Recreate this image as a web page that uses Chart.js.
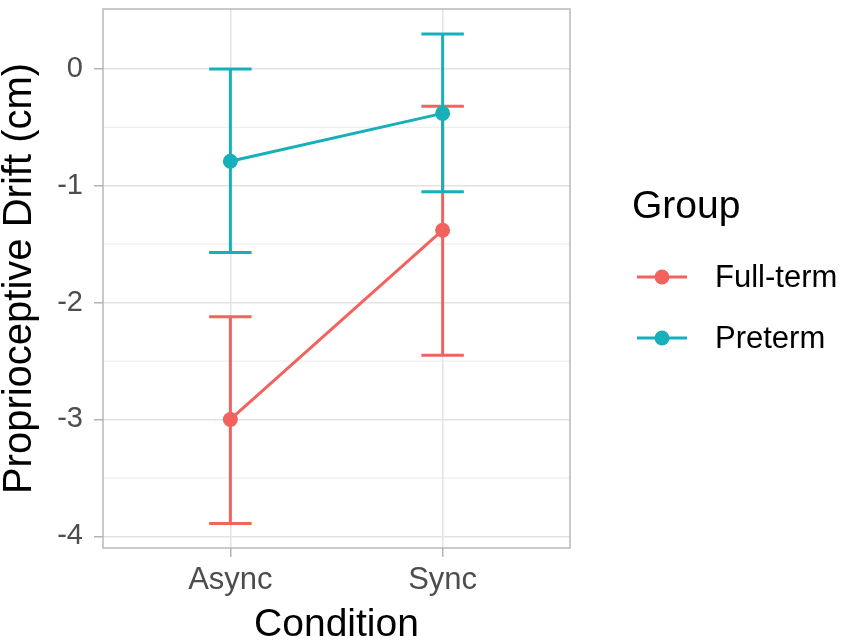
<!DOCTYPE html>
<html lang="en">

<head>
  <meta charset="UTF-8">
  <title>Proprioceptive Drift by Condition</title>
  <script src="https://cdn.jsdelivr.net/npm/chart.js"></script>
  <style>
    body {
      margin: 0;
      background: #ffffff;
      font-family: 'Liberation Sans', Arial, sans-serif;
    }

    #wrap {
      width: 850px;
      height: 642px;
    }
  </style>
</head>

<body>

  <div id="wrap">
    <canvas id="myChart"></canvas>
  </div>

  <script>
    // values
    const categories = ['Async', 'Sync'];
    const yTicks = [-4, -3, -2, -1, 0];
    const yMinor = [-3.5, -2.5, -1.5, -0.5];

    const groups = ['Full-term', 'Preterm'];
    const fullTermMean = [-3.0, -1.38];
    const fullTermLower = [-3.89, -2.45];
    const fullTermUpper = [-2.12, -0.32];
    const pretermMean = [-0.79, -0.38];
    const pretermLower = [-1.57, -1.05];
    const pretermUpper = [0, 0.30];

    const colors = ['#F2635F', '#17AFB9'];
    const FONT = "'Liberation Sans', Arial, sans-serif";

    const xPos = categories.map((c, i) => i + 1);
    const toPoints = (vals) => vals.map((v, i) => ({ x: xPos[i], y: v }));
    const bars = [
      { lower: fullTermLower, upper: fullTermUpper },
      { lower: pretermLower, upper: pretermUpper },
    ];

    // minor gridlines behind everything
    const minorGrid = {
      id: 'minorGrid',
      beforeDraw(chart) {
        const { ctx, chartArea: a, scales: { y } } = chart;
        ctx.save();
        ctx.strokeStyle = '#efefef';
        ctx.lineWidth = 1.2;
        yMinor.forEach((v) => {
          const py = y.getPixelForValue(v);
          ctx.beginPath();
          ctx.moveTo(a.left, py);
          ctx.lineTo(a.right, py);
          ctx.stroke();
        });
        ctx.restore();
      },
    };

    // error bars, drawn under lines and points
    const errorBars = {
      id: 'errorBars',
      beforeDatasetsDraw(chart) {
        const { ctx, scales: { x, y } } = chart;
        ctx.save();
        ctx.lineWidth = 3;
        bars.forEach((b, g) => {
          ctx.strokeStyle = colors[g];
          xPos.forEach((xv, i) => {
            const px = x.getPixelForValue(xv);
            const x0 = x.getPixelForValue(xv - 0.1);
            const x1 = x.getPixelForValue(xv + 0.1);
            const top = y.getPixelForValue(b.upper[i]);
            const bot = y.getPixelForValue(b.lower[i]);
            ctx.beginPath();
            ctx.moveTo(px, top);
            ctx.lineTo(px, bot);
            ctx.moveTo(x0, top);
            ctx.lineTo(x1, top);
            ctx.moveTo(x0, bot);
            ctx.lineTo(x1, bot);
            ctx.stroke();
          });
        });
        ctx.restore();
      },
    };

    // panel border and legend on the right
    const frameAndLegend = {
      id: 'frameAndLegend',
      afterDraw(chart) {
        const { ctx, chartArea: a } = chart;
        ctx.save();
        ctx.strokeStyle = '#b8b8b8';
        ctx.lineWidth = 1.5;
        ctx.strokeRect(a.left, a.top, a.right - a.left, a.bottom - a.top);

        ctx.fillStyle = '#000000';
        ctx.textBaseline = 'alphabetic';
        ctx.font = `39px ${FONT}`;
        ctx.fillText('Group', 632, 218);

        ctx.font = `31px ${FONT}`;
        groups.forEach((name, g) => {
          const cy = 277 + g * 61;
          ctx.strokeStyle = colors[g];
          ctx.lineWidth = 3;
          ctx.beginPath();
          ctx.moveTo(637, cy);
          ctx.lineTo(687, cy);
          ctx.stroke();
          ctx.fillStyle = colors[g];
          ctx.beginPath();
          ctx.arc(662, cy, 7.5, 0, Math.PI * 2);
          ctx.fill();
          ctx.fillStyle = '#000000';
          ctx.textBaseline = 'middle';
          ctx.fillText(name, 715, cy + 1);
        });
        ctx.restore();
      },
    };

    const ctx = document.getElementById('myChart').getContext('2d');
    new Chart(ctx, {
      type: 'line',
      data: {
        datasets: [
          {
            label: groups[0],
            data: toPoints(fullTermMean),
            borderColor: colors[0],
            backgroundColor: colors[0],
            borderWidth: 3,
            pointRadius: 7.5,
            pointHoverRadius: 7.5,
            pointBorderWidth: 0,
            order: 2,
          },
          {
            label: groups[1],
            data: toPoints(pretermMean),
            borderColor: colors[1],
            backgroundColor: colors[1],
            borderWidth: 3,
            pointRadius: 7.5,
            pointHoverRadius: 7.5,
            pointBorderWidth: 0,
            order: 1,
          },
        ],
      },
      options: {
        responsive: true,
        maintainAspectRatio: false,
        animation: false,
        layout: {
          padding: { left: 0, right: 280, top: 9, bottom: 0 },
        },
        plugins: {
          legend: { display: false },
          tooltip: { enabled: false },
        },
        scales: {
          x: {
            type: 'linear',
            min: 0.4,
            max: 2.6,
            afterBuildTicks: (scale) => {
              scale.ticks = xPos.map((v) => ({ value: v }));
            },
            afterFit: (scale) => {
              scale.height = 94;
              scale.paddingLeft = 0;
              scale.paddingRight = 0;
            },
            border: { display: false },
            grid: {
              color: '#e2e2e2',
              lineWidth: 1.5,
              tickColor: '#b3b3b3',
              tickLength: 9,
            },
            ticks: {
              color: '#4d4d4d',
              font: { family: FONT, size: 31, lineHeight: 1.2 },
              padding: 5,
              maxRotation: 0,
              callback: (v) => categories[Math.round(v) - 1],
            },
            title: {
              display: true,
              text: 'Condition',
              color: '#000000',
              font: { family: FONT, size: 39, lineHeight: 0.85 },
              padding: { top: 4, bottom: 0 },
            },
          },
          y: {
            min: -4.1,
            max: 0.513,
            afterBuildTicks: (scale) => {
              scale.ticks = yTicks.map((v) => ({ value: v }));
            },
            afterFit: (scale) => {
              scale.width = 103;
              scale.paddingTop = 0;
              scale.paddingBottom = 0;
            },
            border: { display: false },
            grid: {
              color: '#e2e2e2',
              lineWidth: 1.5,
              tickColor: '#b3b3b3',
              tickLength: 9,
            },
            ticks: {
              color: '#4d4d4d',
              font: { family: FONT, size: 29 },
              padding: 11,
            },
            title: {
              display: true,
              text: 'Proprioceptive Drift (cm)',
              color: '#000000',
              font: { family: FONT, size: 40, lineHeight: 1 },
              padding: { top: 0, bottom: 16 },
            },
          },
        },
      },
      plugins: [minorGrid, errorBars, frameAndLegend],
    });
  </script>

</body>

</html>
